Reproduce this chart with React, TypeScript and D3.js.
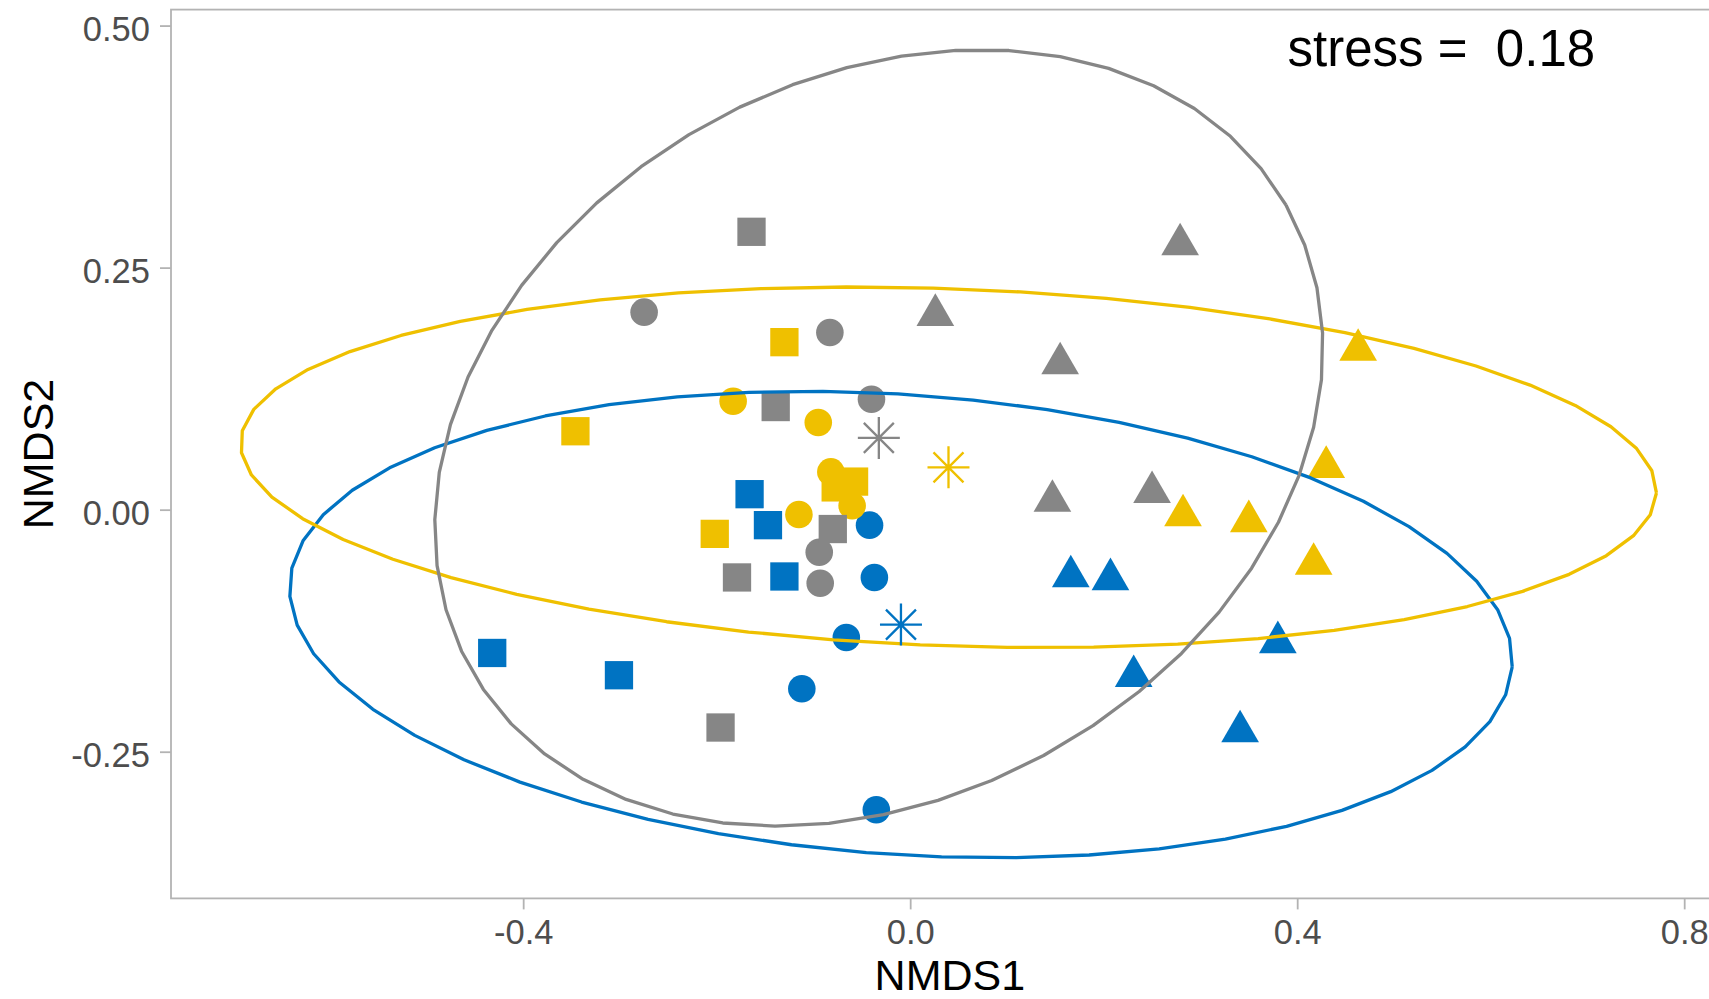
import React, { useEffect, useRef } from 'react';
import * as d3 from 'd3';

// groups (colour) and their points: [NMDS1, NMDS2, shape]
const groupNames = ['blue', 'yellow', 'grey'];
const groupColors = ['#0073C2', '#EFC000', '#868686'];

const bluePoints: [number, number, string][] = [
  [-0.042, -0.016, 'circle'], [-0.037, -0.070, 'circle'], [-0.066, -0.132, 'circle'],
  [-0.112, -0.185, 'circle'], [-0.035, -0.310, 'circle'],
  [-0.166, 0.016, 'square'], [-0.147, -0.016, 'square'], [-0.130, -0.069, 'square'],
  [-0.432, -0.148, 'square'], [-0.301, -0.171, 'square'],
  [0.166, -0.069, 'triangle'], [0.207, -0.072, 'triangle'], [0.380, -0.137, 'triangle'],
  [0.231, -0.172, 'triangle'], [0.341, -0.229, 'triangle'],
];

const yellowPoints: [number, number, string][] = [
  [-0.183, 0.112, 'circle'], [-0.095, 0.090, 'circle'], [-0.082, 0.039, 'circle'],
  [-0.060, 0.004, 'circle'], [-0.115, -0.005, 'circle'],
  [-0.130, 0.173, 'square'], [-0.346, 0.081, 'square'], [-0.058, 0.029, 'square'],
  [-0.077, 0.023, 'square'], [-0.202, -0.025, 'square'],
  [0.463, 0.165, 'triangle'], [0.430, 0.044, 'triangle'], [0.282, -0.006, 'triangle'],
  [0.350, -0.012, 'triangle'], [0.417, -0.056, 'triangle'],
];

const greyPoints: [number, number, string][] = [
  [-0.275, 0.204, 'circle'], [-0.083, 0.183, 'circle'], [-0.040, 0.114, 'circle'],
  [-0.094, -0.044, 'circle'], [-0.093, -0.076, 'circle'],
  [-0.164, 0.287, 'square'], [-0.139, 0.106, 'square'], [-0.080, -0.020, 'square'],
  [-0.179, -0.070, 'square'], [-0.196, -0.225, 'square'],
  [0.279, 0.274, 'triangle'], [0.026, 0.201, 'triangle'], [0.155, 0.151, 'triangle'],
  [0.147, 0.009, 'triangle'], [0.250, 0.018, 'triangle'],
];

// ellipse shape per group (centre = group centroid)
const ellipseSemiMajor = [0.6333, 0.7322, 0.4847];
const ellipseSemiMinor = [0.2375, 0.1845, 0.3695];
const ellipseAngleDeg = [-3.96, -2.07, 29.75];

const xTicks = [-0.4, 0.0, 0.4, 0.8];
const yTicks = [-0.25, 0.0, 0.25, 0.5];
const xTitle = 'NMDS1';
const yTitle = 'NMDS2';
const stressLabel = 'stress =  0.18';

const FONT = '"Liberation Sans", Arial, Helvetica, sans-serif';

const App = () => {
  const svgRef = useRef<SVGSVGElement | null>(null);

  useEffect(() => {
    const width = 1709;
    const height = 999;
    const svg = d3.select(svgRef.current);
    svg.selectAll('*').remove();
    svg.attr('width', width).attr('height', height);

    const panel = { left: 171, right: 1728.7, top: 9.6, bottom: 898.4 };

    const x = d3.scaleLinear().domain([-0.764, 0.846]).range([panel.left, panel.right]);
    const y = d3.scaleLinear().domain([-0.4015, 0.5165]).range([panel.bottom, panel.top]);

    svg.append('rect')
      .attr('x', 0).attr('y', 0)
      .attr('width', width).attr('height', height)
      .attr('fill', 'white');

    // panel border
    svg.append('rect')
      .attr('x', panel.left).attr('y', panel.top)
      .attr('width', panel.right - panel.left)
      .attr('height', panel.bottom - panel.top)
      .attr('fill', 'none')
      .attr('stroke', '#B3B3B3')
      .attr('stroke-width', 1.8);

    // axes
    const xAxis = svg.append('g')
      .attr('transform', `translate(0,${panel.bottom})`)
      .call(d3.axisBottom(x).tickValues(xTicks).tickSize(11).tickPadding(10)
        .tickFormat((d: any) => (+d).toFixed(1)));
    const yAxis = svg.append('g')
      .attr('transform', `translate(${panel.left},0)`)
      .call(d3.axisLeft(y).tickValues(yTicks).tickSize(11).tickPadding(10)
        .tickFormat((d: any) => (+d).toFixed(2)));

    [xAxis, yAxis].forEach(ax => {
      ax.select('.domain').remove();
      ax.selectAll('.tick line').attr('stroke', '#B3B3B3').attr('stroke-width', 1.8);
      ax.selectAll('.tick text')
        .attr('fill', '#4D4D4D')
        .style('font-family', FONT)
        .style('font-size', '34.5px');
    });
    yAxis.selectAll('.tick text').attr('dy', '0.43em');

    // axis titles
    svg.append('text')
      .attr('x', (panel.left + panel.right) / 2)
      .attr('y', 990)
      .attr('text-anchor', 'middle')
      .style('font-family', FONT)
      .style('font-size', '43px')
      .attr('fill', 'black')
      .text(xTitle);

    svg.append('text')
      .attr('transform', `translate(53,${(panel.top + panel.bottom) / 2}) rotate(-90)`)
      .attr('text-anchor', 'middle')
      .style('font-family', FONT)
      .style('font-size', '43px')
      .attr('fill', 'black')
      .text(yTitle);

    const allGroups = [bluePoints, yellowPoints, greyPoints];

    const symbolType: Record<string, any> = {
      circle: d3.symbolCircle,
      square: d3.symbolSquare,
      triangle: d3.symbolTriangle,
    };
    const symbolSize: Record<string, number> = {
      circle: Math.PI * 13.8 * 13.8,
      square: 28.3 * 28.3,
      triangle: 615,
    };

    // points
    const plot = svg.append('g');
    allGroups.forEach((pts, gi) => {
      plot.selectAll(`.pt-${gi}`)
        .data(pts)
        .enter().append('path')
        .attr('class', `pt-${gi}`)
        .attr('transform', d => `translate(${x(d[0])},${y(d[1])})`)
        .attr('d', d => d3.symbol().type(symbolType[d[2]]).size(symbolSize[d[2]])() as string)
        .attr('fill', groupColors[gi]);
    });

    // ellipses (51 segments like stat_ellipse)
    const centroids = allGroups.map(pts => [
      d3.mean(pts, d => d[0]) as number,
      d3.mean(pts, d => d[1]) as number,
    ]);

    const line = d3.line<[number, number]>()
      .x(d => x(d[0]))
      .y(d => y(d[1]));

    allGroups.forEach((pts, gi) => {
      const [cx, cy] = centroids[gi];
      const a = ellipseSemiMajor[gi];
      const b = ellipseSemiMinor[gi];
      const th = ellipseAngleDeg[gi] * Math.PI / 180;
      const ring: [number, number][] = d3.range(52).map(i => {
        const t = (i / 51) * 2 * Math.PI;
        const u = a * Math.cos(t);
        const v = b * Math.sin(t);
        return [cx + u * Math.cos(th) - v * Math.sin(th), cy + u * Math.sin(th) + v * Math.cos(th)];
      });
      plot.append('path')
        .datum(ring)
        .attr('d', line)
        .attr('fill', 'none')
        .attr('stroke', groupColors[gi])
        .attr('stroke-width', 3.3)
        .attr('stroke-linejoin', 'round');
    });

    // centroids as asterisks
    centroids.forEach((c, gi) => {
      const px = x(c[0]);
      const py = y(c[1]);
      const p = d3.path();
      const r1 = 21;
      const r2 = 15;
      p.moveTo(px - r1, py); p.lineTo(px + r1, py);
      p.moveTo(px, py - r1); p.lineTo(px, py + r1);
      p.moveTo(px - r2, py - r2); p.lineTo(px + r2, py + r2);
      p.moveTo(px - r2, py + r2); p.lineTo(px + r2, py - r2);
      plot.append('path')
        .attr('d', p.toString())
        .attr('fill', 'none')
        .attr('stroke', groupColors[gi])
        .attr('stroke-width', 2.3)
        .attr('data-group', groupNames[gi]);
    });

    // stress annotation
    svg.append('text')
      .attr('x', x(0.549))
      .attr('y', y(0.4775))
      .attr('dy', '0.36em')
      .attr('text-anchor', 'middle')
      .style('font-family', FONT)
      .style('font-size', '51px')
      .style('white-space', 'pre')
      .attr('fill', 'black')
      .text(stressLabel);
  }, []);

  return (
    <div style={{ position: 'absolute', left: 0, top: 0, width: 1709, height: 999, overflow: 'hidden' }}>
      <svg ref={svgRef} style={{ display: 'block' }}></svg>
    </div>
  );
};

export default App;
